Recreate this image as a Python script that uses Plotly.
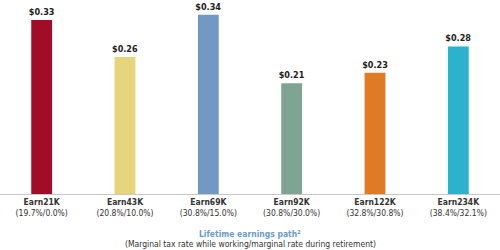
import plotly.graph_objects as go

categories = ["Earn21K", "Earn43K", "Earn69K", "Earn92K", "Earn122K", "Earn234K"]
rates = ["(19.7%/0.0%)", "(20.8%/10.0%)", "(30.8%/15.0%)", "(30.8%/30.0%)", "(32.8%/30.8%)", "(38.4%/32.1%)"]
values = [0.33, 0.26, 0.34, 0.21, 0.23, 0.28]
colors = ["#a10d26", "#e5d57c", "#7199c1", "#7fa493", "#e07b25", "#2bb2cd"]

font_fam = "DejaVu Sans Condensed, Liberation Sans Narrow, sans-serif"

ticktext = [f"<b>{c}</b><br>{r}" for c, r in zip(categories, rates)]

fig = go.Figure(go.Bar(
    x=categories,
    y=values,
    marker=dict(color=colors, line=dict(width=0)),
    text=[f"<b>${v:.2f}</b>" for v in values],
    textposition="outside",
    constraintext="none",
    textfont=dict(size=9, color="#222", family=font_fam),
    cliponaxis=False,
    width=0.25,
))

fig.update_layout(
    width=500, height=250,
    margin=dict(l=0, r=0, t=0, b=56),
    paper_bgcolor="white", plot_bgcolor="white",
    showlegend=False,
    font=dict(family=font_fam, color="#333"),
    xaxis=dict(
        tickmode="array", tickvals=categories, ticktext=ticktext,
        tickfont=dict(size=8.5, color="#333", family=font_fam),
        showline=True, linecolor="#c8c8c8", linewidth=1,
        showgrid=False, ticks="", zeroline=False,
    ),
    yaxis=dict(range=[0, 0.368], visible=False, showgrid=False, zeroline=False),
    annotations=[
        dict(text="<b>Lifetime earnings path²</b>", x=0.5, y=-0.206, xref="paper", yref="paper",
             showarrow=False, xanchor="center", yanchor="middle",
             font=dict(size=8.5, color="#6a9ccc", family=font_fam)),
        dict(text="(Marginal tax rate while working/marginal rate during retirement)", x=0.5, y=-0.258,
             xref="paper", yref="paper", showarrow=False, xanchor="center", yanchor="middle",
             font=dict(size=8.5, color="#333", family=font_fam)),
    ],
)

fig.write_html("out.html")
